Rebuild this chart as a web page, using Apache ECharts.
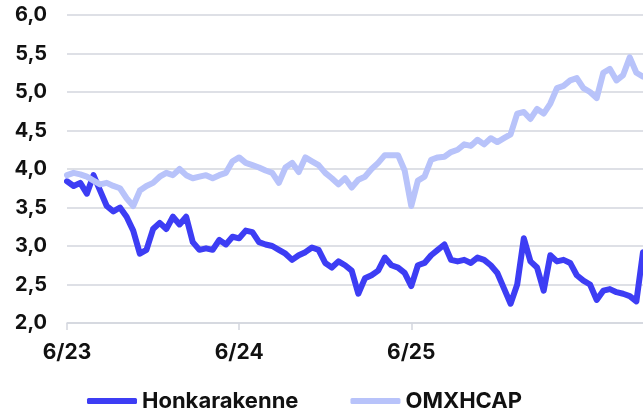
<!DOCTYPE html>
<html>
<head>
<meta charset="utf-8">
<script src="https://cdn.jsdelivr.net/npm/echarts@6/dist/echarts.min.js"></script>
<style>
  html, body { margin: 0; padding: 0; background: #fff; }
  #main { width: 643px; height: 411px; }
</style>
</head>
<body>
<div id="main"></div>
<script>
// two-week steps from 6/23 onwards
const honkarakenne = [
  3.84, 3.78, 3.82, 3.68, 3.92, 3.72, 3.52, 3.45, 3.50, 3.38,
  3.20, 2.90, 2.95, 3.22, 3.30, 3.22, 3.38, 3.28, 3.38, 3.05,
  2.95, 2.97, 2.95, 3.08, 3.02, 3.12, 3.10, 3.20, 3.18, 3.05,
  3.02, 3.00, 2.95, 2.90, 2.82, 2.88, 2.92, 2.98, 2.95, 2.78,
  2.72, 2.80, 2.75, 2.68, 2.38, 2.58, 2.62, 2.68, 2.85, 2.75,
  2.72, 2.65, 2.48, 2.75, 2.78, 2.88, 2.95, 3.02, 2.82, 2.80,
  2.82, 2.78, 2.85, 2.82, 2.75, 2.65, 2.45, 2.25, 2.50, 3.10,
  2.80, 2.72, 2.42, 2.88, 2.80, 2.82, 2.78, 2.62, 2.55, 2.50,
  2.30, 2.42, 2.44, 2.40, 2.38, 2.35, 2.28, 2.92
];
const omxhcap = [
  3.92, 3.95, 3.93, 3.90, 3.85, 3.80, 3.82, 3.78, 3.75, 3.62,
  3.52, 3.72, 3.78, 3.82, 3.90, 3.95, 3.92, 4.00, 3.92, 3.88,
  3.90, 3.92, 3.88, 3.92, 3.95, 4.10, 4.15, 4.08, 4.05, 4.02,
  3.98, 3.95, 3.82, 4.02, 4.08, 3.96, 4.15, 4.10, 4.05, 3.95,
  3.88, 3.80, 3.88, 3.76, 3.86, 3.90, 4.00, 4.08, 4.18, 4.18,
  4.18, 3.98, 3.52, 3.85, 3.90, 4.12, 4.15, 4.16, 4.22, 4.25,
  4.32, 4.30, 4.38, 4.32, 4.40, 4.35, 4.40, 4.45, 4.72, 4.74,
  4.65, 4.78, 4.72, 4.85, 5.05, 5.08, 5.15, 5.18, 5.05, 5.00,
  4.92, 5.25, 5.30, 5.15, 5.22, 5.45, 5.25, 5.20
];
const tickLabels = { 0: '6/23', 26: '6/24', 52: '6/25' };
const steps = honkarakenne.map((_, i) => i);

const font = 'Inter, "Liberation Sans", sans-serif';
var myChart = echarts.init(document.getElementById('main'));

var option = {
  animation: false,
  textStyle: { fontFamily: font },
  grid: { left: 67, right: 0, top: 15, bottom: 88 },
  legend: {
    data: ['Honkarakenne', 'OMXHCAP'],
    left: 82,
    top: 385,
    icon: 'roundRect',
    itemWidth: 50,
    itemHeight: 6,
    itemGap: 52,
    textStyle: { fontFamily: font, fontSize: 22, fontWeight: 'bold', color: '#111' }
  },
  xAxis: {
    type: 'category',
    data: steps,
    boundaryGap: false,
    axisLine: { lineStyle: { color: '#d3d6de', width: 1.5 } },
    axisTick: {
      length: 7,
      lineStyle: { color: '#d3d6de', width: 1.5 },
      interval: (i) => tickLabels[i] !== undefined
    },
    axisLabel: {
      interval: (i) => tickLabels[i] !== undefined,
      formatter: (v, i) => tickLabels[i] || '',
      margin: 19,
      fontFamily: font,
      fontSize: 21,
      fontWeight: 'bold',
      color: '#111'
    },
    splitLine: { show: false }
  },
  yAxis: {
    type: 'value',
    min: 2,
    max: 6,
    interval: 0.5,
    axisLine: { show: false },
    axisTick: { show: false },
    axisLabel: {
      margin: 20,
      fontFamily: font,
      fontSize: 20,
      fontWeight: 'bold',
      color: '#111',
      formatter: (v) => v.toFixed(1).replace('.', ',')
    },
    splitLine: { lineStyle: { color: '#d3d6de', width: 1.5 } }
  },
  series: [
    {
      name: 'Honkarakenne',
      type: 'line',
      data: honkarakenne,
      showSymbol: false,
      color: '#3d3df4',
      lineStyle: { width: 6, color: '#3d3df4', join: 'round', cap: 'round' }
    },
    {
      name: 'OMXHCAP',
      type: 'line',
      data: omxhcap,
      showSymbol: false,
      color: '#b8c3fa',
      lineStyle: { width: 6, color: '#b8c3fa', join: 'round', cap: 'round' }
    }
  ]
};

myChart.setOption(option);
</script>
</body>
</html>
